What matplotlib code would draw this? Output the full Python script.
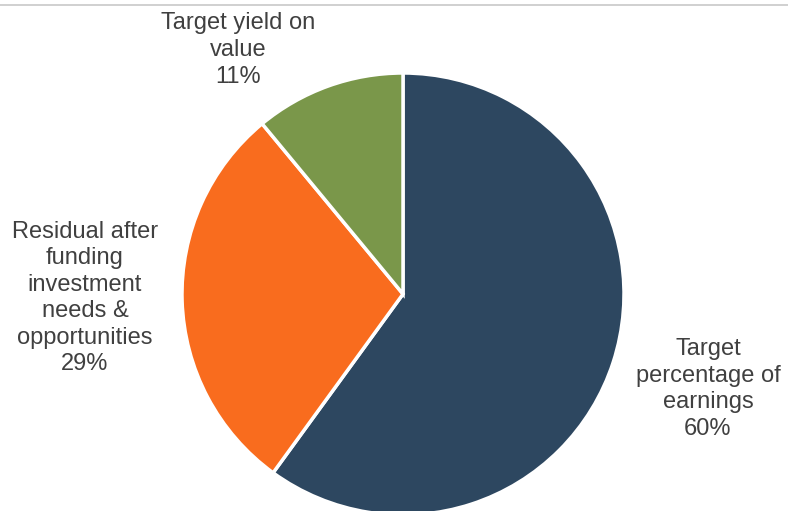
import matplotlib.pyplot as plt

plt.rcParams['font.family'] = ['Liberation Sans', 'DejaVu Sans']

# Share of earnings by payout component
labels = ['Target\npercentage of\nearnings', 'Residual after\nfunding\ninvestment\nneeds &\nopportunities',
          'Target yield on\nvalue']
shares = [60, 29, 11]
colors = ['#2D4760', '#F96C1E', '#7A974A']
label_pos = [(708, 122), (85, 213), (238, 461)]

W, H = 788, 511
fig = plt.figure(figsize=(W / 100, H / 100), dpi=100)
ax = fig.add_axes([0, 0, 1, 1])

ax.pie(shares, colors=colors, startangle=90, counterclock=False,
       center=(403, 217), radius=221,
       wedgeprops=dict(edgecolor='white', linewidth=2.5))

for lab, val, (x, y) in zip(labels, shares, label_pos):
    ax.text(x, y, f'{lab}\n{val}%', ha='center', va='center',
            fontsize=17, color='#404040', linespacing=1.27)

# thin rule along the top edge
ax.plot([0, W], [H - 5, H - 5], color='#C8C8C8', lw=1.2)

ax.set_xlim(0, W)
ax.set_ylim(0, H)
ax.set_aspect('equal')
ax.axis('off')

fig.savefig('out.png', dpi=100)
